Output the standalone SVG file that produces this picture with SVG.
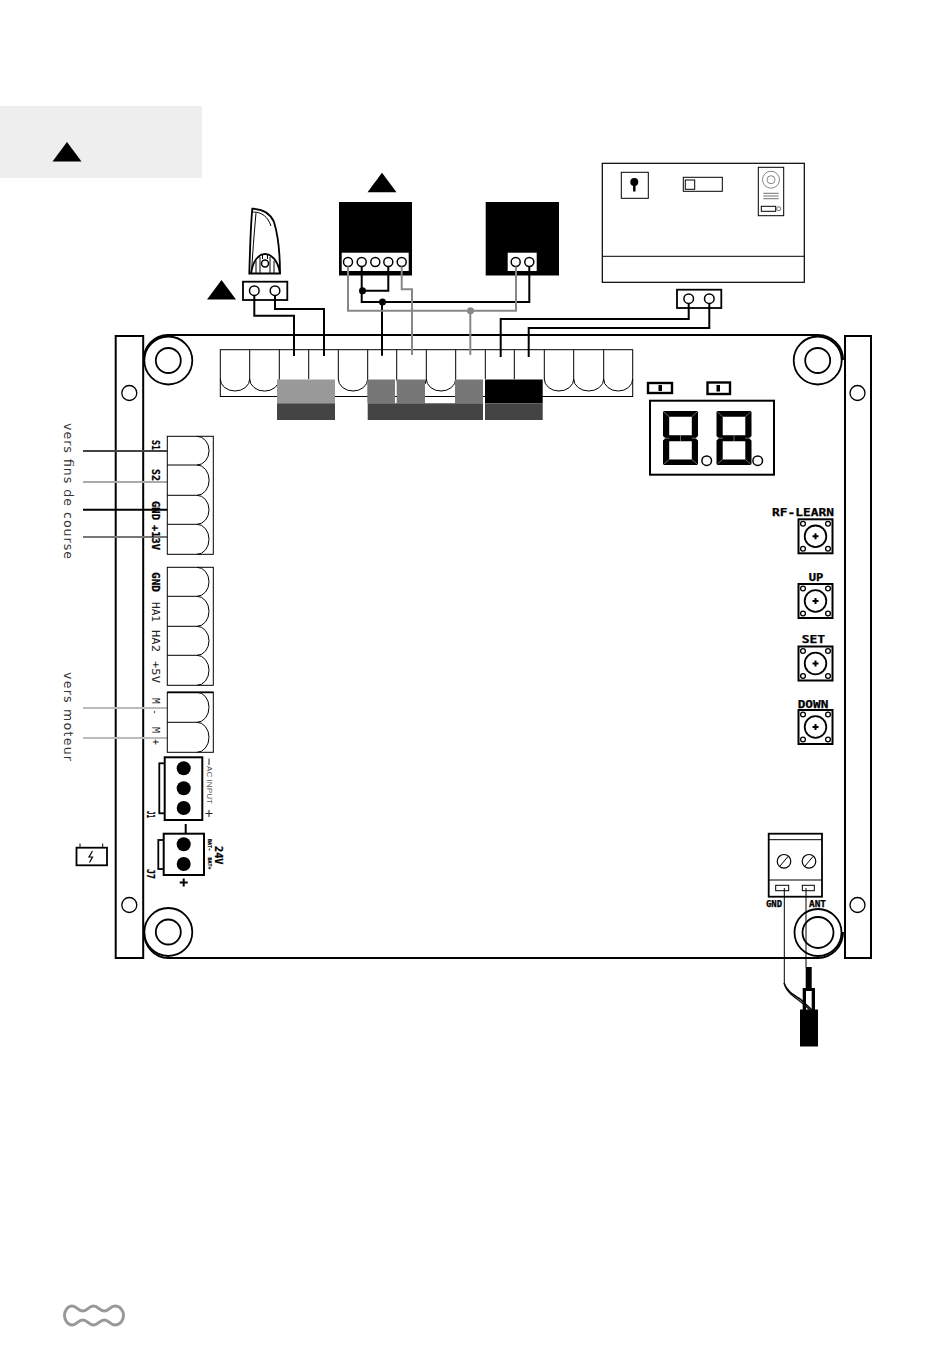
<svg xmlns="http://www.w3.org/2000/svg" width="950" height="1348" viewBox="0 0 950 1348">
<style>
.k{fill:none;stroke:#000;stroke-width:1.8}
.t{fill:none;stroke:#000;stroke-width:1}
.b{fill:#fff;stroke:#000;stroke-width:1.8}
.w{fill:none;stroke-width:2;stroke:#000}
.g{stroke:#888}
.s1{stroke-width:1}
.s12{stroke-width:1.2}
.s13{stroke-width:1.3}
.s15{stroke-width:1.5}
.s2{stroke-width:2}
.s24{stroke-width:2.4}
.hole{fill:#fff;stroke:#000;stroke-width:1.3}
.lab{font-family:"DejaVu Sans Mono","Liberation Mono",monospace;font-weight:700;fill:#000;stroke:#000;stroke-width:.25}
.thin{font-family:"DejaVu Sans Mono","Liberation Mono",monospace;fill:#222}
.note{font-family:"DejaVu Sans","Liberation Sans",sans-serif;fill:#333;font-size:12.500px}
</style>
<defs>
<path id="tri" d="M0 0L14.500 19.500H-14.500Z" fill="#000"/>
<g id="btn">
<rect x="-17" y="-17" width="34" height="34" class="b s2"/>
<circle r="10.800" class="k"/>
<path d="M-3 0H3M0-3V3" class="k s2"/>
<circle cx="-12.500" cy="-12.500" r="2.400" class="hole"/><circle cx="12.500" cy="-12.500" r="2.400" class="hole"/>
<circle cx="-12.500" cy="12.500" r="2.400" class="hole"/><circle cx="12.500" cy="12.500" r="2.400" class="hole"/>
</g>
<g id="digit">
<path fill="#000" fill-rule="evenodd" d="M1 0H34L35 1V25L32.500 27.200L35 29.500V53L34 54H1L0 53V29.500L2.500 27.200L0 25V1ZM6.200 5.700V24.300H28.800V5.700ZM6.200 30.200V48.400H28.800V30.200Z"/>
<path stroke="#999" stroke-width=".7" fill="none" d="M1 1L6.200 5.700M34 1L28.800 5.700M1 53L6.200 48.400M34 53L28.800 48.400M17.500 24.300V30.200M0.500 27.200H6.200M34.500 27.200H28.800"/>
</g>
</defs>

<g id="legend-box"><rect x="0" y="106" width="202" height="72" fill="#eee"/><use href="#tri" x="67" y="142"/></g>

<g id="board">
<rect x="115.700" y="336" width="27.500" height="622" class="k s2"/>
<rect x="845" y="336" width="26" height="622" class="k s2"/>
<path d="M144 360A24 24 0 0 1 168 335H818A25 25 0 0 1 843 360M144 932A24 26 0 0 0 168 958H818A25 26 0 0 0 843 932" class="k s2"/>
<circle cx="168.300" cy="360.500" r="24" class="k"/><circle cx="168.300" cy="360.500" r="12.500" class="k"/>
<circle cx="817.700" cy="360.500" r="24" class="k"/><circle cx="817.700" cy="360.500" r="12.500" class="k"/>
<circle cx="168.300" cy="932" r="24" class="k"/><circle cx="168.300" cy="932" r="12.500" class="k"/>
<circle cx="818" cy="932.500" r="23.500" class="k"/><circle cx="818" cy="932.500" r="15.500" class="k"/>
<circle cx="129.300" cy="393" r="7.500" class="k s13"/><circle cx="129.300" cy="905" r="7.500" class="k s13"/>
<circle cx="857.500" cy="393" r="7.500" class="k s13"/><circle cx="857.500" cy="905" r="7.500" class="k s13"/>
</g>

<g id="top-terminal">
<rect x="220.300" y="349.700" width="412.400" height="46.800" class="t"/>
<path class="t" d="M249.700 349.700V379M279.300 349.700V379M308.700 349.700V379M338.300 349.700V379M367.700 349.700V379M396.700 349.700V379M426.300 349.700V379M455.700 349.700V379M485.300 349.700V379M514.300 349.700V379M544.300 349.700V379M573.700 349.700V379M603.700 349.700V379"/>
<path class="t" d="M220.300 379A14.700 12 0 0 0 249.700 379A14.700 12 0 0 0 279.300 379M338.300 379A14.700 12 0 0 0 367.700 379M396.700 379A14.700 12 0 0 0 426.300 379A14.700 12 0 0 0 455.700 379M544.300 379A14.700 12 0 0 0 573.700 379A15 12 0 0 0 603.700 379A14.500 12 0 0 0 632.700 379"/>
<rect x="277" y="379.500" width="58" height="23.800" fill="#999"/>
<rect x="277" y="403.300" width="58" height="16.700" fill="#444"/>
<rect x="367.300" y="379.500" width="27.700" height="23.800" fill="#777"/>
<rect x="396.700" y="379.500" width="28.300" height="23.800" fill="#777"/>
<rect x="455" y="379.500" width="28" height="23.800" fill="#777"/>
<rect x="367.700" y="403.300" width="115.300" height="16.700" fill="#444"/>
<rect x="485" y="379.500" width="57.700" height="23.800" fill="#000"/>
<rect x="485" y="403.300" width="57.700" height="16.700" fill="#444"/>
</g>

<g id="photocell">
<path class="k" d="M252.300 208.700C262 209 270 212 274 222C278 235 280 255 280 273.500H249.300C250 250 250.500 228 252.300 208.700Z"/>
<path class="t" d="M256 213C254 235 252.500 255 251.500 273M253 212C262 212 268 217 271 226"/>
<path class="k" d="M251 273.500C253 260 259 254 265 254C271 254 278 260 280 273.500"/>
<circle cx="265" cy="263.500" r="3.500" class="k s15"/>
<path class="t" d="M256 273V261M260 273V257M262.500 259V254M267.500 259V254M270 273V257M274 273V261"/>
</g>
<g id="photocell-block">
<use href="#tri" x="221.500" y="280"/>
<rect x="243" y="281.700" width="44.300" height="18.300" class="b"/>
<circle cx="254.300" cy="290.700" r="4.800" class="b s15"/><circle cx="275" cy="290.700" r="4.800" class="b s15"/>
</g>

<g id="receiver-a">
<use href="#tri" x="382" y="172.700"/>
<rect x="339" y="202" width="73" height="73.500" fill="#000"/>
<rect x="341.700" y="252.700" width="67" height="18.300" fill="#fff"/>
<circle cx="348" cy="262" r="4.500" class="b s15"/><circle cx="361.700" cy="262" r="4.500" class="b s15"/><circle cx="375.300" cy="262" r="4.500" class="b s15"/><circle cx="388.300" cy="262" r="4.500" class="b s15"/><circle cx="401.700" cy="262" r="4.500" class="b s15"/>
</g>
<g id="receiver-b">
<rect x="485.700" y="202" width="73.300" height="73.500" fill="#000"/>
<rect x="507.700" y="252.700" width="29" height="18.300" fill="#fff"/>
<circle cx="515.700" cy="262" r="4.500" class="b s15"/><circle cx="529.300" cy="262" r="4.500" class="b s15"/>
</g>

<g id="panel">
<rect x="602.300" y="163.300" width="202" height="119" class="t s12"/>
<path d="M603 256.300H804" class="t"/>
<rect x="621.300" y="172.300" width="27" height="26" class="t"/>
<circle cx="634.300" cy="182" r="4" fill="#000"/><path d="M634.300 184V191.500" stroke="#000" stroke-width="2.500"/>
<rect x="683.300" y="177.300" width="39" height="14" class="t"/>
<rect x="685.300" y="180" width="9.400" height="9.300" class="t"/>
<rect x="758.300" y="167.300" width="25.400" height="48.400" class="t"/>
<circle cx="771" cy="179.700" r="8.500" fill="none" stroke="#555" stroke-width=".7"/><circle cx="771" cy="179.700" r="4" fill="none" stroke="#555" stroke-width=".7"/>
<path d="M763.300 193.300H778.700M763.300 196H778.700M763.300 198.700H778.700" fill="none" stroke="#333" stroke-width=".7"/>
<rect x="761.300" y="206.300" width="14.400" height="5" class="t"/>
<circle cx="778.700" cy="208.700" r="2" fill="none" stroke="#333" stroke-width=".7"/>
</g>
<g id="panel-block">
<rect x="677" y="289.700" width="44.300" height="18.300" class="b"/>
<circle cx="688.700" cy="298.700" r="4.800" class="b s15"/><circle cx="709.300" cy="298.700" r="4.800" class="b s15"/>
</g>

<g id="connectors">
<path class="w" d="M254.300 295.500V315.700H294V356"/>
<path class="w" d="M275 295.500V309H324V356"/>
<path class="w" d="M361.700 266.500V302H529.300V266.500"/>
<path class="w" d="M361.700 290.700H388.300V266.500"/>
<path class="w" d="M382 302V355.700"/>
<circle cx="362.500" cy="290.700" r="3.500" fill="#000"/><circle cx="382.500" cy="302" r="3.500" fill="#000"/>
<path class="w g" d="M348 266.500V310.700H516V266.500"/>
<path class="w g" d="M401.700 266.500V289.300H412V355"/>
<path class="w g" d="M470.300 310.700V355"/>
<circle cx="470.500" cy="310.700" r="3.500" fill="#888"/>
<path class="w" d="M688.700 303.500V319H500.700V357"/>
<path class="w" d="M709.300 303.500V328H528.700V357"/>
<path d="M83 451H167" fill="none" stroke="#444" stroke-width="2"/>
<path d="M83 482H167" fill="none" stroke="#aaa" stroke-width="2"/>
<path d="M83 509.700H167" fill="none" stroke="#000" stroke-width="2"/>
<path d="M83 537H167" fill="none" stroke="#777" stroke-width="2"/>
<path d="M83 708H167" fill="none" stroke="#bbb" stroke-width="2"/>
<path d="M83 738H167" fill="none" stroke="#bbb" stroke-width="2"/>
</g>

<g id="jumpers">
<rect x="648" y="383" width="24" height="10" class="b s24"/><rect x="658.500" y="385" width="3.500" height="6" fill="#000"/>
<rect x="707.500" y="382.500" width="22.500" height="11.500" class="b s24"/><rect x="716.500" y="385" width="3.500" height="6.500" fill="#000"/>
</g>

<g id="display">
<rect x="650" y="400.700" width="124" height="74" class="k s2"/>
<use href="#digit" x="663" y="411"/><use href="#digit" x="716.500" y="411"/>
<circle cx="706.700" cy="460.700" r="4.800" class="k s15"/><circle cx="757.700" cy="460.700" r="4.800" class="k s15"/>
</g>

<g id="buttons">
<use href="#btn" x="815.500" y="536.300"/><use href="#btn" x="815.500" y="601"/><use href="#btn" x="815.500" y="663.500"/><use href="#btn" x="815.500" y="727"/>
<text class="lab" x="772" y="515.500" font-size="11" textLength="62" lengthAdjust="spacingAndGlyphs">RF-LEARN</text>
<text class="lab" x="808.700" y="580.500" font-size="11" textLength="14.600" lengthAdjust="spacingAndGlyphs">UP</text>
<text class="lab" x="801.700" y="643" font-size="11" textLength="23.500" lengthAdjust="spacingAndGlyphs">SET</text>
<text class="lab" x="797.700" y="707.500" font-size="11" textLength="30.600" lengthAdjust="spacingAndGlyphs">DOWN</text>
</g>

<g id="side-terminal-1">
<rect x="167.300" y="436.300" width="46" height="118" class="t"/>
<path class="t" d="M167.300 465H197M167.300 495.300H197M167.300 524.300H197"/>
<path class="t" d="M197 436.300A12 14.300 0 0 1 197 465A12 15 0 0 1 197 495.300A12 14.500 0 0 1 197 524.300A12 15 0 0 1 197 554.300"/>
<g class="lab" font-size="10">
<text transform="translate(152 440) rotate(90)" textLength="10" lengthAdjust="spacingAndGlyphs">S1</text>
<text transform="translate(152 469) rotate(90)" textLength="12" lengthAdjust="spacingAndGlyphs">S2</text>
<text transform="translate(152 501) rotate(90)" textLength="19" lengthAdjust="spacingAndGlyphs">GND</text>
<text transform="translate(152 525) rotate(90)" textLength="25" lengthAdjust="spacingAndGlyphs">+13V</text>
</g>
</g>
<g id="side-terminal-2">
<rect x="167.300" y="567.300" width="46" height="118" class="t"/>
<path class="t" d="M167.300 596.300H197M167.300 626.300H197M167.300 655.300H197"/>
<path class="t" d="M197 567.300A12 14.500 0 0 1 197 596.300A12 15 0 0 1 197 626.300A12 14.500 0 0 1 197 655.300A12 15 0 0 1 197 685.300"/>
<text class="lab" font-size="10" transform="translate(152 572) rotate(90)" textLength="20" lengthAdjust="spacingAndGlyphs">GND</text>
<g class="thin" font-size="10.500">
<text transform="translate(152 602) rotate(90)" textLength="20" lengthAdjust="spacingAndGlyphs">HA1</text>
<text transform="translate(152 630) rotate(90)" textLength="22" lengthAdjust="spacingAndGlyphs">HA2</text>
<text transform="translate(152 661) rotate(90)" textLength="22" lengthAdjust="spacingAndGlyphs">+5V</text>
</g>
</g>
<g id="side-terminal-3">
<rect x="167.300" y="692.300" width="46" height="60" class="t"/>
<path d="M167.300 692.300H213.300" class="k"/>
<path class="t" d="M167.300 722.300H197"/>
<path class="t" d="M197 692.300A12 15 0 0 1 197 722.300A12 15 0 0 1 197 752.300"/>
<g class="thin" font-size="10.500">
<text transform="translate(152 698) rotate(90)" textLength="17" lengthAdjust="spacingAndGlyphs">M -</text>
<text transform="translate(152 727) rotate(90)" textLength="18" lengthAdjust="spacingAndGlyphs">M +</text>
</g>
</g>

<g id="notes">
<text class="note" transform="translate(64 423) rotate(90)" textLength="136" lengthAdjust="spacing">vers fins de course</text>
<text class="note" transform="translate(64 672) rotate(90)" textLength="89" lengthAdjust="spacing">vers moteur</text>
</g>

<g id="j1">
<rect x="159.300" y="763.300" width="6" height="50" fill="#fff" stroke="#000" stroke-width="1.800"/>
<rect x="164.700" y="757.300" width="37.600" height="62.700" class="b s2"/>
<circle cx="183.700" cy="768.300" r="7"/><circle cx="183.700" cy="788.300" r="7"/><circle cx="183.700" cy="808" r="7"/>
<path d="M209 758.500V765M205.500 813.500H212.500M209 810V817" fill="none" stroke="#222" stroke-width="1"/>
<text transform="translate(206.500 766) rotate(90)" font-family="Liberation Sans,sans-serif" font-size="8" fill="#555" textLength="38" lengthAdjust="spacingAndGlyphs">AC INPUT</text>
<text class="lab" font-size="10" transform="translate(146.500 811) rotate(90)" textLength="7" lengthAdjust="spacingAndGlyphs">J1</text>
</g>
<g id="j2">
<rect x="158.300" y="840" width="6" height="29" fill="#fff" stroke="#000" stroke-width="1.800"/>
<rect x="163.700" y="833.700" width="40.300" height="41.300" class="b s2"/>
<circle cx="183.700" cy="844.300" r="7"/><circle cx="183.700" cy="864" r="7"/>
<path d="M185.700 824V833M179.700 882.500H187.700M183.700 878.500V886.500" fill="none" stroke="#000" stroke-width="2"/>
<text class="lab" font-size="10" transform="translate(146.500 869) rotate(90)" textLength="10" lengthAdjust="spacingAndGlyphs">J7</text>
<text class="lab" font-size="10" transform="translate(215 846) rotate(90)" textLength="18.500" lengthAdjust="spacingAndGlyphs">24V</text>
<text class="lab" font-size="5" transform="translate(208 839) rotate(90)" textLength="12" lengthAdjust="spacingAndGlyphs">BAT-</text>
<text class="lab" font-size="5" transform="translate(208 857.500) rotate(90)" textLength="12" lengthAdjust="spacingAndGlyphs">BAT+</text>
</g>

<g id="battery">
<rect x="76.500" y="847.700" width="30.500" height="17.600" class="k"/>
<path d="M80 843.500V847.500M102.700 843.500V847.500" class="t"/>
<path d="M92.500 851L89 857H92.500L89.500 862.500" class="t s12"/>
</g>

<g id="antenna-terminal">
<rect x="768.700" y="833.700" width="53.300" height="63" class="b"/>
<path d="M769 839.700H822M769 880H822" class="t"/>
<circle cx="784" cy="861.300" r="6.800" class="k s12"/><circle cx="809" cy="861.300" r="6.800" class="k s12"/>
<path d="M780 866L788 856.500M805 866L813 856.500" class="t"/>
<rect x="775.700" y="885.300" width="13" height="5.400" class="k s1"/>
<rect x="802.300" y="885.300" width="12" height="5.400" class="k s1"/>
<text class="lab" font-size="8" x="766" y="906.500" textLength="16" lengthAdjust="spacingAndGlyphs">GND</text>
<text class="lab" font-size="8" x="809" y="906.500" textLength="17" lengthAdjust="spacingAndGlyphs">ANT</text>
</g>
<g id="antenna">
<path d="M784.300 888V983" fill="none" stroke="#000" stroke-width="1"/>
<path d="M784 983C786 990 792 994 800 999L812 1010" fill="none" stroke="#000" stroke-width="1.600"/>
<path d="M785 986C788 993 794 997 801 1002L810 1010" fill="none" stroke="#111" stroke-width="1.400"/>
<path d="M806 888V967" fill="none" stroke="#000" stroke-width="1"/>
<rect x="805.700" y="967" width="6" height="21" fill="#000"/>
<path d="M802.700 1010V988H815V1010H811.700V991H806V1010Z" fill="#000"/>
<rect x="800" y="1009.500" width="18" height="37" fill="#000"/>
</g>

<g id="logo">
<path fill="none" stroke="#999" stroke-width="3" d="M72 1306C77 1306 78 1311 82.700 1311C87.500 1311 88.500 1306 93.500 1306C98.500 1306 99.500 1311 104.300 1311C109 1311 110 1306 115 1306C120.500 1306 123.500 1311 123.500 1315.500C123.500 1320 120.500 1325 115 1325C110 1325 109 1320 104.300 1320C99.500 1320 98.500 1325 93.500 1325C88.500 1325 87.500 1320 82.700 1320C78 1320 77 1325 72 1325C67.500 1325 64.500 1320 64.500 1315.500C64.500 1311 67.500 1306 72 1306Z"/>
</g>
</svg>
